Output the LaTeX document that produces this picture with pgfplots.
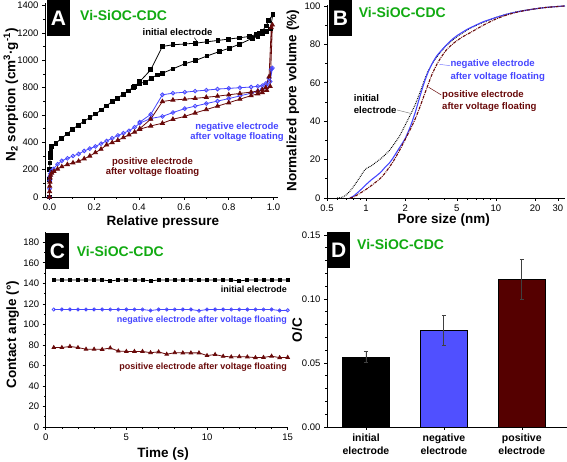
\documentclass[border=0pt]{standalone}
\usepackage{fontspec}
\setmainfont{Liberation Sans}
\usepackage{pgfplots}
\pgfplotsset{compat=1.18}
\definecolor{myblue}{RGB}{70,70,255}
\definecolor{mydred}{RGB}{105,10,10}
\definecolor{mygreen}{RGB}{17,170,17}
\definecolor{barred}{RGB}{85,0,0}
\definecolor{barblue}{RGB}{80,80,255}
\pgfplotsset{
  myaxis/.style={
    scale only axis, clip=false,
    axis x line=bottom, axis y line=left,
    axis line style={-, line width=0.7pt},
    tick align=outside, major tick length=3pt, minor tick length=1.6pt,
    every tick/.style={line width=0.6pt, black},
    tick label style={font=\fontsize{9.5}{11}\selectfont},
    /pgf/number format/assume math mode=true,
    /pgf/number format/1000 sep={},
    label style={font=\bfseries\fontsize{13.5}{15}\selectfont},
    every axis plot/.append style={line width=0.8pt},
  },
}
\tikzset{annA/.style={font=\bfseries\fontsize{9.5}{10.7}\selectfont, align=center, inner sep=0pt}}
\begin{document}
\begin{tikzpicture}
\useasboundingbox (0pt,0pt) rectangle (567pt,462pt);

% ---------------- Panel A ----------------
\begin{axis}[myaxis,
  at={(45pt,265pt)}, anchor=south west,
  width=233pt, height=194pt,
  xmin=-0.02, xmax=1.02, ymin=0, ymax=1420,
  xtick={0,0.2,0.4,0.6,0.8,1.0}, minor x tick num=1,
  ytick={0,200,...,1400}, minor y tick num=1,
  xticklabel style={/pgf/number format/.cd, fixed, fixed zerofill, precision=1},
  xlabel={Relative pressure},
  ylabel={N\textsubscript{2} sorption (cm\textsuperscript{3}·g\textsuperscript{-1})},
  xlabel style={at={(axis description cs:0.506,-0.129)}, anchor=center},
  ylabel style={at={(axis description cs:-0.146,0.526)}, anchor=center},
]
% initial electrode
\addplot[black, mark=square*, mark size=1.9pt] coordinates {
(0,0)(0.0005,130)(0.001,200)(0.002,250)(0.003,290)(0.004,320)(0.006,345)(0.01,370)
(0.029,394)(0.054,430)(0.079,462)(0.103,496)(0.128,525)(0.154,555)(0.18,581)(0.206,608)
(0.232,638)(0.255,667)(0.28,699)(0.304,723)(0.329,753)(0.351,777)(0.376,804)(0.403,833)
(0.428,840)(0.455,870)(0.48,894)(0.504,906)(0.551,938)(0.604,975)(0.653,1000)(0.703,1032)
(0.759,1065)(0.804,1090)(0.849,1119)(0.907,1163)(0.93,1175)(0.951,1200)(0.97,1210)(0.985,1230)(0.997,1334)
(0.978,1292)(0.967,1253)(0.95,1215)(0.937,1200)(0.923,1190)(0.893,1175)(0.846,1165)
(0.80,1156)(0.752,1146)(0.703,1136)(0.653,1126)(0.604,1120)(0.551,1114)(0.504,1102)
(0.452,931)(0.403,845)(0.38,810)
};
% negative electrode
\addplot[myblue, mark=o, mark size=1.9pt, mark options={fill=white}] coordinates {
(0,0)(0.0005,60)(0.001,120)(0.002,150)(0.004,170)(0.008,190)(0.017,205)(0.036,240)
(0.055,265)(0.08,283)(0.105,300)(0.13,315)(0.155,337)(0.18,354)(0.205,370)(0.23,390)
(0.255,410)(0.28,430)(0.305,450)(0.33,467)(0.355,485)(0.38,510)(0.403,540)
(0.452,575)(0.504,590)(0.551,618)(0.604,647)(0.65,665)(0.7,684)(0.75,702)(0.8,720)(0.85,740)
(0.9,760)(0.93,775)(0.95,790)(0.97,810)(0.985,845)(0.995,945)
(0.99,935)(0.98,870)(0.965,830)(0.95,815)(0.93,810)(0.9,805)(0.85,800)(0.8,795)
(0.75,790)(0.7,782)(0.65,775)(0.604,767)(0.551,760)(0.504,748)(0.452,605)(0.403,548)
};
% positive electrode
\addplot[mydred, mark=triangle*, mark size=2.3pt] coordinates {
(0,0)(0.0005,40)(0.001,80)(0.002,110)(0.003,140)(0.005,160)(0.01,175)(0.02,188)
(0.036,205)(0.055,222)(0.08,238)(0.105,250)(0.13,262)(0.155,280)(0.18,300)(0.205,325)
(0.23,350)(0.255,381)(0.28,398)(0.305,415)(0.33,435)(0.355,455)(0.38,475)
(0.403,496)(0.452,520)(0.504,540)(0.551,569)(0.604,590)(0.65,615)(0.7,640)(0.75,665)(0.8,690)
(0.85,716)(0.9,742)(0.93,755)(0.95,765)(0.97,780)(0.985,810)(0.995,1260)
(0.99,1240)(0.98,880)(0.965,800)(0.95,785)(0.93,775)(0.9,768)(0.85,758)(0.8,748)
(0.75,738)(0.7,730)(0.65,722)(0.604,716)(0.551,710)(0.504,699)(0.452,570)(0.403,500)
};
\end{axis}

% ---------------- Panel B ----------------
\begin{axis}[myaxis,
  at={(327pt,264pt)}, anchor=south west,
  width=238pt, height=193pt,
  xmode=log, xmin=0.5, xmax=34, ymin=0, ymax=100.5,
  xtick={0.5,1,2,5,10,20,30}, xticklabels={0.5,1,2,5,10,20,30},
  minor xtick={0.6,0.7,0.8,0.9,3,4,6,7,8,9},
  ytick={0,20,...,100}, minor y tick num=1,
  xlabel={Pore size (nm)},
  ylabel={Normalized pore volume (\%)},
  xlabel style={at={(axis description cs:0.49,-0.112)}, anchor=center},
  ylabel style={at={(axis description cs:-0.143,0.505)}, anchor=center},
]
\addplot[black, densely dotted, line width=1pt, smooth, tension=0.4] coordinates {
(0.6,0)(0.65,0.3)(0.7,1.5)(0.75,3.5)(0.8,6)(0.85,8.5)(0.9,11)(0.95,13.5)(1.0,15.3)
(1.1,16.8)(1.2,18.8)(1.3,20.5)(1.4,22.5)(1.5,24.5)(1.6,27)(1.8,32)(2.0,38)(2.2,43.5)
(2.4,49)(2.6,55)(2.8,61)(3.0,66)(3.3,71)(3.6,74.5)(4.0,78.3)(4.5,81.5)(5,84)(6,87.5)
(7,89.8)(8,91.5)(10,94)(12,95.7)(15,97.2)(20,98.5)(25,99.3)(34,100)
};
\addplot[myblue, line width=1.1pt, smooth, tension=0.4] coordinates {
(0.75,0)(0.8,1)(0.85,2.5)(0.9,4)(0.95,5.5)(1.0,7)(1.1,9.5)(1.2,11.5)(1.3,13.5)(1.4,16)
(1.5,18)(1.6,20.5)(1.8,26)(2.0,31)(2.2,37.5)(2.4,45)(2.6,53)(2.8,60)(3.0,65.5)(3.2,69.5)
(3.5,74)(4.0,78.5)(4.5,82)(5,84.5)(6,87.8)(7,90)(8,91.8)(10,94)(12,95.6)(15,97.1)
(20,98.5)(25,99.3)(34,100)
};
\addplot[mydred, densely dash dot, line width=1.1pt, smooth, tension=0.4] coordinates {
(0.75,0)(0.8,0.5)(0.9,2.5)(1.0,4.5)(1.1,6.5)(1.2,8.5)(1.3,10.5)(1.4,13)(1.6,18.5)
(1.8,24.5)(2.0,30.5)(2.2,36)(2.4,41.5)(2.6,47.5)(2.8,53.5)(3.0,59)(3.2,64)(3.5,69.5)
(3.8,73.5)(4.2,77.5)(4.8,81)(5.5,83.8)(6.5,86.5)(8,90)(10,93.2)(12,95.2)(15,97)
(20,98.5)(25,99.3)(34,100)
};
\end{axis}

% ---------------- Panel C ----------------
\begin{axis}[myaxis,
  at={(45.7pt,35pt)}, anchor=south west,
  width=242pt, height=195pt,
  xmin=0, xmax=15, ymin=0, ymax=190,
  xtick={0,5,10,15}, minor x tick num=4,
  ytick={0,20,...,180}, minor y tick num=1,
  xlabel={Time (s)},
  ylabel={Contact angle (°)},
  xlabel style={at={(axis description cs:0.485,-0.138)}, anchor=center},
  ylabel style={at={(axis description cs:-0.137,0.474)}, anchor=center},
]
\addplot[black, mark=square*, mark size=1.5pt] coordinates {
(0.5,143.3)(1,143.3)(1.5,143.3)(2,143.3)(2.5,143.3)(3,143.3)(3.5,143.3)(4,142.3)
(4.5,143.3)(5,143.3)(5.5,143.3)(6,143.3)(6.5,142.3)(7,143.3)(7.5,143.3)(8,143.3)
(8.5,143.3)(9,143.3)(9.5,143.3)(10,143.3)(10.5,143.3)(11,143.3)(11.5,143.3)(12,142.3)
(12.5,143.3)(13,143.3)(13.5,143.3)(14,143.3)(14.5,143.3)(15,143.3)
};
\addplot[myblue, mark=o, mark size=1.6pt, mark options={fill=white}] coordinates {
(0.5,114.5)(1,114.5)(1.5,114.5)(2,114.5)(2.5,114.5)(3,114.5)(3.5,114.5)(4,114.5)
(4.5,114.5)(5,114.5)(5.5,114.5)(6,114.5)(6.5,113.5)(7,114.5)(7.5,114.5)(8,114.5)
(8.5,114.5)(9,114.5)(9.5,113.3)(10,114.5)(10.5,114.5)(11,114.5)(11.5,114.5)(12,114.5)
(12.5,114.5)(13,114.5)(13.5,114.5)(14,114.5)(14.5,113.5)(15,113.7)
};
\addplot[mydred, mark=triangle*, mark size=2pt] coordinates {
(0.5,77.4)(1,77.4)(1.5,78.5)(2,77.4)(2.5,75.8)(3,75.8)(3.5,75.6)(4,77)(4.5,74)(5,73.6)
(5.5,73.6)(6,73.6)(6.5,72.4)(7,73.2)(7.5,70.9)(8,72.4)(8.5,72.2)(9,72.2)(9.5,72.2)
(10,69.6)(10.5,70.6)(11,68.9)(11.5,68.3)(12,68.5)(12.5,68.3)(13,67.6)(13.5,67.8)
(14,69)(14.5,67.6)(15,67.8)
};
\end{axis}

% ---------------- Panel D ----------------
\begin{axis}[myaxis,
  at={(327pt,35pt)}, anchor=south west,
  width=240pt, height=192pt,
  xmin=0.5, xmax=3.58, ymin=0, ymax=0.15,
  xtick={1,2,3},
  xticklabels={{initial\\electrode},{negative\\electrode},{positive\\electrode}},
  xticklabel style={align=center, font=\bfseries\fontsize{10.5}{13.3}\selectfont},
  ytick={0,0.05,0.10,0.15}, minor y tick num=4,
  scaled y ticks=false,
  yticklabel style={/pgf/number format/.cd, fixed, fixed zerofill, precision=2},
  ylabel={O/C},
  ylabel style={at={(axis description cs:-0.125,0.505)}, anchor=center},
  every axis plot/.append style={ybar, bar shift=0pt, bar width=0.6, draw=black, line width=0.5pt,
    error bars/y dir=both, error bars/y explicit,
    error bars/error bar style={line width=0.8pt, color=black!75},
    error bars/error mark options={rotate=90, mark size=2pt, line width=0.8pt, color=black!75}},
]
\addplot[fill=black] coordinates {(1,0.0548) +- (0,0.0045)};
\addplot[fill=barblue] coordinates {(2,0.0755) +- (0,0.0115)};
\addplot[fill=barred] coordinates {(3,0.1155) +- (0,0.0155)};
\end{axis}

% ---------------- panel letters ----------------
\foreach \px/\py/\L in {46.7/462/A, 328.7/462/B, 45.7/229.3/C, 327/230.3/D}{
  \node[fill=black, text=white, font=\bfseries\fontsize{21}{21}\selectfont,
        minimum width=23pt, minimum height=36pt, inner sep=0pt, anchor=north west]
        at (\px pt,\py pt) {\L};
}
% ---------------- sample names ----------------
\foreach \px/\py in {80/446, 358.7/449, 76.7/210.3, 357/217}{
  \node[anchor=west, text=mygreen, font=\bfseries\fontsize{14}{16}\selectfont, inner sep=0pt]
        at (\px pt,\py pt) {Vi-SiOC-CDC};
}
% ---------------- annotations A ----------------
\node[annA, text=black] at (177.5pt,430pt) {initial electrode};
\draw[black, line width=0.5pt] (194.3pt,424.3pt) -- (197.3pt,420.3pt);
\node[annA, text=myblue] at (237pt,330pt) {negative electrode\\after voltage floating};
\node[annA, text=mydred] at (152.5pt,295pt) {positive electrode\\after voltage floating};
% ---------------- annotations B ----------------
\node[font=\bfseries\fontsize{9.6}{12.3}\selectfont, align=left, inner sep=0pt, anchor=west, text=black]
  at (353.7pt,358pt) {initial\\electrode};
\node[font=\bfseries\fontsize{9.6}{12.3}\selectfont, align=left, inner sep=0pt, anchor=west, text=myblue]
  at (450.3pt,391.5pt) {negative electrode\\after voltage floating};
\node[font=\bfseries\fontsize{9.6}{12.3}\selectfont, align=left, inner sep=0pt, anchor=west, text=mydred]
  at (442pt,361pt) {positive electrode\\after voltage floating};
\draw[gray, line width=0.5pt] (397pt,352pt) -- (410.3pt,348.7pt);
\draw[myblue!70, line width=0.5pt] (439.3pt,397.7pt) -- (450pt,396.3pt);
\draw[mydred, line width=0.5pt] (428.7pt,374.7pt) -- (441.3pt,367pt);
% ---------------- annotations C ----------------
\node[font=\bfseries\fontsize{9}{10}\selectfont, anchor=east, inner sep=0pt, text=black]
  at (287pt,173pt) {initial electrode};
\node[font=\bfseries\fontsize{9}{10}\selectfont, anchor=east, inner sep=0pt, text=myblue]
  at (287pt,142pt) {negative electrode after voltage floating};
\node[font=\bfseries\fontsize{9}{10}\selectfont, anchor=east, inner sep=0pt, text=mydred]
  at (287pt,95.3pt) {positive electrode after voltage floating};
\end{tikzpicture}
\end{document}
